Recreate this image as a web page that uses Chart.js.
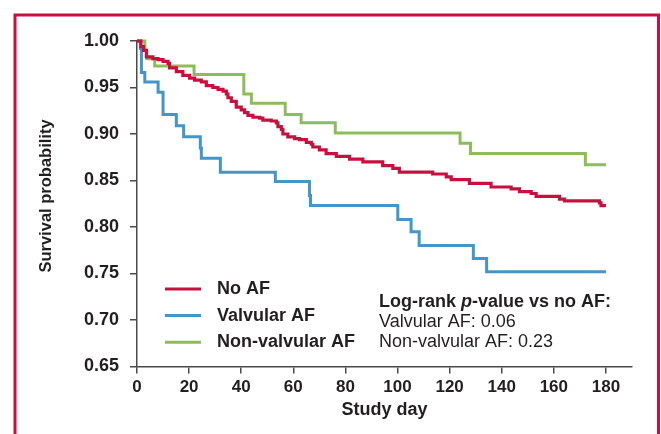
<!DOCTYPE html>
<html>
<head>
<meta charset="utf-8">
<script src="https://cdn.jsdelivr.net/npm/chart.js@4/dist/chart.umd.min.js"></script>
<style>
  html, body { margin: 0; padding: 0; background: #fff; }
  #km { display: block; }
</style>
</head>
<body>
<canvas id="km" width="661" height="434"></canvas>
<script>
// Kaplan-Meier curves (day of each drop, survival after it)
const noAfDays = [0, 1.5, 2.5, 3.6, 6.1, 8.1, 10.0, 11.9, 12.5, 15.1, 17.6, 20.2, 22.1, 24.7, 26.6, 29.1, 31.1, 33.0, 34.3, 34.9, 36.2, 38.1, 40.0, 41.3, 42.6, 44.5, 47.1, 48.3, 51.5, 53.5, 54.1, 55.4, 56.0, 57.9, 60.5, 62.4, 65.0, 66.9, 67.5, 70.0, 72.6, 76.5, 81.6, 86.7, 94.3, 98.2, 100.7, 113.5, 118.7, 120.6, 127.6, 135.9, 143.6, 146.8, 151.3, 153.2, 162.2, 164.1, 177.5, 178.1, 180];
const noAfSurv = [1.0, 0.994, 0.990, 0.983, 0.981, 0.980, 0.978, 0.976, 0.971, 0.967, 0.963, 0.960, 0.958, 0.956, 0.952, 0.950, 0.948, 0.946, 0.943, 0.939, 0.935, 0.929, 0.926, 0.923, 0.920, 0.918, 0.917, 0.915, 0.914, 0.912, 0.908, 0.905, 0.900, 0.897, 0.895, 0.894, 0.891, 0.889, 0.886, 0.883, 0.879, 0.876, 0.873, 0.870, 0.866, 0.863, 0.859, 0.857, 0.854, 0.851, 0.847, 0.843, 0.841, 0.838, 0.836, 0.833, 0.830, 0.828, 0.826, 0.823, 0.823];

const valvDays = [0, 1.3, 1.7, 3.0, 8.1, 10.0, 15.1, 17.9, 24.3, 24.7, 32.0, 53.1, 66.2, 66.6, 100.1, 105.2, 108.3, 129.1, 134.2, 180];
const valvSurv = [1.0, 0.992, 0.966, 0.956, 0.945, 0.921, 0.909, 0.897, 0.885, 0.874, 0.859, 0.849, 0.834, 0.823, 0.808, 0.795, 0.780, 0.766, 0.752, 0.752];

const nonValvDays = [0, 3.0, 3.8, 6.8, 21.9, 41.0, 43.9, 56.9, 63.0, 76.1, 124.0, 128.0, 172.1, 180];
const nonValvSurv = [1.0, 0.990, 0.981, 0.973, 0.964, 0.943, 0.933, 0.921, 0.912, 0.901, 0.890, 0.879, 0.867, 0.867];

const seriesNames = ["No AF", "Valvular AF", "Non-valvular AF"];
const seriesColors = ["#c8103f", "#4596c8", "#8cbd5a"];
const pTitle = ["Log-rank ", "p", "-value vs no AF:"];
const pLines = ["Valvular AF: 0.06", "Non-valvular AF: 0.23"];

const FONT = "'Liberation Sans', Arial, sans-serif";
const INK = "#231f20";
const AXIS = "#4a4a4a";

function toPoints(days, surv) {
  return days.map((d, i) => ({ x: d, y: surv[i] }));
}

// frame, legend, p-value note and y title
const kmDecor = {
  id: "kmDecor",
  beforeDraw(chart) {
    const ctx = chart.ctx;
    ctx.save();
    ctx.strokeStyle = seriesColors[0];
    ctx.lineWidth = 3;
    ctx.beginPath();
    ctx.moveTo(15, 440);
    ctx.lineTo(15, 15);
    ctx.lineTo(658.5, 15);
    ctx.lineTo(658.5, 440);
    ctx.stroke();
    ctx.restore();
  },
  afterDraw(chart) {
    const ctx = chart.ctx;
    const area = chart.chartArea;
    ctx.save();
    ctx.fillStyle = INK;
    ctx.textBaseline = "middle";

    // legend
    const lx = area.left + 28;
    seriesNames.forEach((name, i) => {
      const y = 289 + i * 26.6;
      ctx.strokeStyle = seriesColors[i];
      ctx.lineWidth = 3;
      ctx.beginPath();
      ctx.moveTo(lx, y);
      ctx.lineTo(lx + 36, y);
      ctx.stroke();
      ctx.font = "bold 18px " + FONT;
      ctx.textAlign = "left";
      ctx.fillText(name, lx + 52, y);
    });

    // log-rank note
    let px = area.left + 242;
    const py = 301.7;
    ctx.font = "bold 18px " + FONT;
    ctx.fillText(pTitle[0], px, py);
    px += ctx.measureText(pTitle[0]).width;
    ctx.font = "italic bold 18px " + FONT;
    ctx.fillText(pTitle[1], px, py);
    px += ctx.measureText(pTitle[1]).width;
    ctx.font = "bold 18px " + FONT;
    ctx.fillText(pTitle[2], px, py);
    ctx.font = "18px " + FONT;
    pLines.forEach((t, i) => {
      ctx.fillText(t, area.left + 242, 321.7 + i * 20);
    });

    // y axis title
    ctx.translate(46, 196);
    ctx.rotate(-Math.PI / 2);
    ctx.textAlign = "center";
    ctx.font = "bold 16.5px " + FONT;
    ctx.fillText("Survival probability", 0, 0);
    ctx.restore();
  }
};

const ctx = document.getElementById("km");

new Chart(ctx, {
  type: "line",
  data: {
    datasets: [
      { label: seriesNames[0], data: toPoints(noAfDays, noAfSurv), borderColor: seriesColors[0], borderWidth: 3.2 },
      { label: seriesNames[1], data: toPoints(valvDays, valvSurv), borderColor: seriesColors[1], borderWidth: 3 },
      { label: seriesNames[2], data: toPoints(nonValvDays, nonValvSurv), borderColor: seriesColors[2], borderWidth: 3 }
    ].map(ds => Object.assign(ds, { stepped: true, pointRadius: 0, fill: false, clip: false, borderCapStyle: "butt" }))
  },
  options: {
    responsive: false,
    animation: false,
    events: [],
    layout: { padding: { top: 41, right: 29, left: 0, bottom: 0 } },
    plugins: {
      legend: { display: false },
      tooltip: { enabled: false }
    },
    scales: {
      x: {
        type: "linear",
        min: 0,
        max: 190,
        afterFit(scale) { scale.height = 67.5; },
        ticks: {
          stepSize: 20,
          includeBounds: false,
          color: INK,
          padding: 4,
          maxRotation: 0,
          font: { family: FONT, size: 17, weight: "bold" }
        },
        grid: { drawOnChartArea: false, color: AXIS, lineWidth: 1.5, tickLength: 7 },
        border: { color: AXIS, width: 1.5 },
        title: {
          display: true,
          text: "Study day",
          color: INK,
          padding: { top: 0, bottom: 13 },
          font: { family: FONT, size: 18, weight: "bold" }
        }
      },
      y: {
        min: 0.65,
        max: 1.0,
        afterFit(scale) { scale.width = 137; },
        ticks: {
          stepSize: 0.05,
          color: INK,
          padding: 11,
          font: { family: FONT, size: 18, weight: "bold" },
          callback: v => Number(v).toFixed(2)
        },
        grid: { drawOnChartArea: false, color: AXIS, lineWidth: 1.5, tickLength: 7 },
        border: { color: AXIS, width: 1.5 }
      }
    }
  },
  plugins: [kmDecor]
});
</script>
</body>
</html>
